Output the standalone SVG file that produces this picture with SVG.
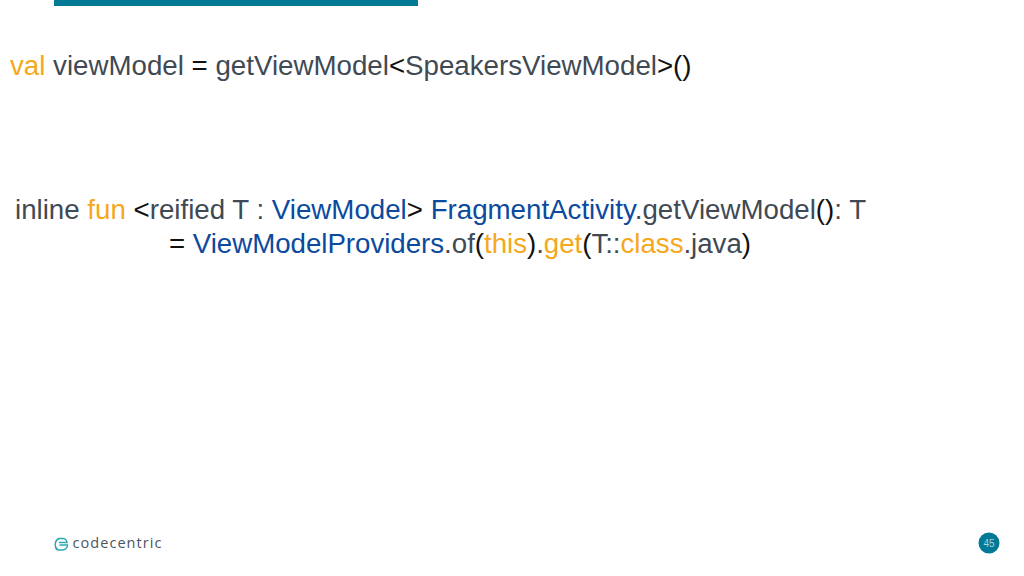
<svg xmlns="http://www.w3.org/2000/svg" width="1024" height="576" viewBox="0 0 1024 576">
<style>
text{font-family:"Liberation Sans",Arial,sans-serif;font-size:27.700px;fill:#3f4a54}
.o{fill:#f5a81c}.b{fill:#0b4a9e}.k{fill:#111}
</style>
<rect width="1024" height="576" fill="#fff"/>
<rect x="54" y="0" width="364" height="6" fill="#027a96"/>
<text id="line1" x="10" y="75"><tspan class="o">val</tspan> viewModel <tspan class="k">=</tspan> getViewModel<tspan class="k">&lt;</tspan>SpeakersViewModel<tspan class="k">&gt;()</tspan></text>
<text id="line2" x="15" y="219"><tspan>inline </tspan><tspan class="o">fun</tspan> <tspan class="k">&lt;</tspan>reified T : <tspan class="b">ViewModel</tspan><tspan class="k">&gt;</tspan> <tspan class="b">FragmentActivity</tspan>.getViewModel<tspan class="k">()</tspan>: T</text>
<text id="line3" x="169" y="253" textLength="582"><tspan class="k">=</tspan> <tspan class="b">ViewModelProviders</tspan>.of<tspan class="k">(</tspan><tspan class="o">this</tspan><tspan class="k">)</tspan>.<tspan class="o">get</tspan><tspan class="k">(</tspan>T::<tspan class="o">class</tspan>.java<tspan class="k">)</tspan></text>
<g id="logo">
<path d="M58 549.500a6.300 6.300 0 0 1 1-11h3.500a4.300 4.300 0 0 1 4.500 4h-8M55.500 547.500a3.800 3.800 0 0 0 3.500 2.500h3.500a5 5 0 0 0 5-5h-8" fill="none" stroke="#2aa6b0" stroke-width="1.400"/>
<text x="72.500" y="547.500" style="font-size:14.500px;letter-spacing:1.050px;fill:#4a5560;font-family:'Open Sans',sans-serif">codecentric</text>
</g>
<g id="page">
<circle cx="989" cy="543" r="10.500" fill="#027a96"/>
<text x="989" y="546.500" text-anchor="middle" style="font-size:10px;fill:#a8d3dd">45</text>
</g>
</svg>
